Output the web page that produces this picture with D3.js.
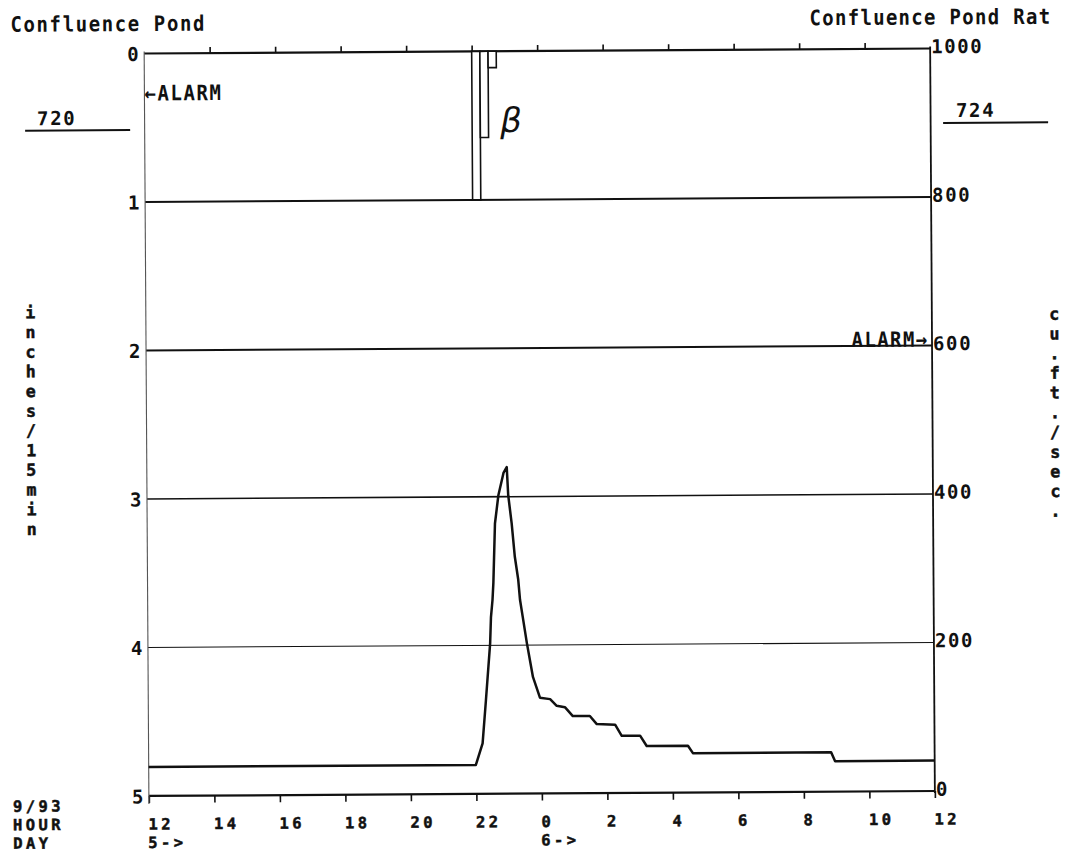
<!DOCTYPE html>
<html><head><meta charset="utf-8">
<script src="https://cdn.jsdelivr.net/npm/d3@7"></script>
<style>
html,body{margin:0;padding:0;background:#fff;}
svg{display:block;}
text{font-family:"DejaVu Sans Mono","Liberation Mono",monospace;font-weight:bold;font-size:19px;letter-spacing:1.6px;fill:#111;}
text.heavy{stroke:#111;stroke-width:0.5px;}
</style></head><body>
<svg id="chart" width="1066" height="855"></svg>
<script>
// ---- data ----
const titleLeft = "Confluence Pond";
const titleRight = "Confluence Pond Rat";
const leftAxisLabel = "inches/15min";
const rightAxisLabel = "cu.ft./sec.";
const dateLabel = ["9/93", "HOUR", "DAY"];
const rainTicks = [0, 1, 2, 3, 4, 5];
const flowTicks = [0, 200, 400, 600, 800, 1000];
// hours since 12:00 on day 5
const hourTicks = [0, 2, 4, 6, 8, 10, 12, 14, 16, 18, 20, 22, 24];
const hourLabels = ["12", "14", "16", "18", "20", "22", "0", "2", "4", "6", "8", "10", "12"];
const dayHours = [0, 12];
const dayLabels = ["5->", "6->"];
// rainfall (inches per 15 min), interval start in hours since 12:00
const rainStart = [10.0, 10.25, 10.5];
const rainValue = [1.00, 0.58, 0.11];
const rainInterval = 0.25;
// rating flow (cu.ft./sec.)
const flowHours = [0, 9.99, 10.20, 10.31, 10.45, 10.48, 10.53, 10.56, 10.62, 10.73, 10.89, 10.99,
  11.03, 11.13, 11.22, 11.32, 11.37, 11.45, 11.57, 11.75, 11.96, 12.27, 12.47, 12.72, 12.96,
  13.27, 13.48, 13.69, 14.25, 14.45, 15.01, 15.21, 16.47, 16.62, 20.84, 20.96, 24];
const flowCfs = [39, 39, 68, 126, 203, 238, 261, 284, 364, 402, 432, 440,
  402, 364, 319, 288, 261, 238, 203, 157, 129, 127, 118, 116, 104,
  104, 104, 93, 92, 77, 77, 63, 63, 53, 53, 41, 41];
const alarmLeft = "720";
const alarmRight = "724";

// ---- layout ----
const L = 146.5, R = 932.5, T = 51, B = 793.5;
const ROW = 18.5;                       // row pitch of the bottom text block
const BOT_FONT = "15.5px", BOT_LS = "3.4px";
const svg = d3.select("#chart");
const g = svg.append("g").attr("transform", "rotate(-0.364,537,420)");

const x = d3.scaleLinear().domain([0, 24]).range([L, R]);
const yRain = d3.scaleLinear().domain([0, 5]).range([T, B]);
const yFlow = d3.scaleLinear().domain([0, 1000]).range([B, T]);

// grid lines
const gridW = {1: 2, 2: 2, 3: 1.6, 4: 1.1};
g.selectAll("line.grid").data(rainTicks.filter(d => d > 0 && d < 5)).enter()
  .append("line").attr("class", "grid")
  .attr("x1", L).attr("x2", R)
  .attr("y1", d => yRain(d)).attr("y2", d => yRain(d))
  .attr("stroke", "#111").attr("stroke-width", d => gridW[d]);

// top axis ticks
const topAx = g.append("g").attr("transform", `translate(0,${T})`)
  .call(d3.axisTop(x).tickValues(hourTicks.slice(1, -1)).tickSize(6).tickFormat(""));
topAx.select(".domain").remove();
topAx.selectAll("line").attr("stroke", "#111").attr("stroke-width", 1.6);

// bottom axis
const botAx = g.append("g").attr("transform", `translate(0,${B})`)
  .call(d3.axisBottom(x).tickValues(hourTicks).tickSize(7).tickFormat((d, i) => hourLabels[i]));
botAx.select(".domain").remove();
botAx.selectAll("line").attr("stroke", "#111").attr("stroke-width", 1.6);
botAx.selectAll("text").attr("class", "heavy").attr("text-anchor", "start").attr("x", -1).attr("y", 33.5).attr("dy", null)
  .attr("fill", "#111").style("font-size", BOT_FONT).style("letter-spacing", BOT_LS);

// day labels
g.selectAll("text.day").data(dayHours).enter().append("text").attr("class", "day heavy")
  .attr("x", d => x(d) - 1).attr("y", B + 33.5 + ROW)
  .style("font-size", BOT_FONT).style("letter-spacing", BOT_LS)
  .text((d, i) => dayLabels[i]);

// date block
g.selectAll("text.date").data(dateLabel).enter().append("text").attr("class", "date heavy")
  .attr("x", 10.5).attr("y", (d, i) => B + 33.5 + (i - 1) * ROW)
  .style("font-size", BOT_FONT).style("letter-spacing", BOT_LS)
  .text(d => d);

// frame lines
g.append("line").attr("x1", L).attr("x2", R).attr("y1", T).attr("y2", T)
  .attr("stroke", "#111").attr("stroke-width", 2.2);
g.append("line").attr("x1", L).attr("x2", R).attr("y1", B).attr("y2", B)
  .attr("stroke", "#111").attr("stroke-width", 2.2);
g.append("line").attr("x1", L).attr("x2", L).attr("y1", T - 2).attr("y2", B + 8)
  .attr("stroke", "#555").attr("stroke-width", 1.1);
g.append("line").attr("x1", R).attr("x2", R).attr("y1", T - 2).attr("y2", B + 2)
  .attr("stroke", "#111").attr("stroke-width", 1.8);

// left axis labels
const leftAx = g.append("g").attr("transform", `translate(${L},0)`)
  .call(d3.axisLeft(yRain).tickValues(rainTicks).tickSize(0).tickPadding(4).tickFormat(d3.format("d")));
leftAx.select(".domain").remove();
leftAx.selectAll("text").attr("dy", "0.36em").attr("fill", "#111");

// right axis labels
const rightAx = g.append("g").attr("transform", `translate(${R},0)`)
  .call(d3.axisRight(yFlow).tickValues(flowTicks).tickSize(0).tickPadding(1).tickFormat(d3.format("d")));
rightAx.select(".domain").remove();
rightAx.selectAll("text").attr("dy", "0.22em").attr("fill", "#111");

// rainfall bars
g.selectAll("rect.rain").data(rainValue).enter().append("rect").attr("class", "rain")
  .attr("x", (d, i) => x(rainStart[i]))
  .attr("width", (d, i) => x(rainStart[i] + rainInterval) - x(rainStart[i]))
  .attr("y", yRain(0))
  .attr("height", d => yRain(d) - yRain(0))
  .attr("fill", "#fff").attr("stroke", "#111").attr("stroke-width", 1.6);

// flow line
const flow = flowHours.map((h, i) => [h, flowCfs[i]]);
g.append("path").datum(flow)
  .attr("d", d3.line().x(d => x(d[0])).y(d => yFlow(d[1])))
  .attr("fill", "none").attr("stroke", "#111").attr("stroke-width", 2.5)
  .attr("stroke-linejoin", "round");

// titles
g.append("text").attr("transform", "translate(13,28.5) scale(1,1.12)").text(titleLeft);
g.append("text").attr("transform", "translate(812,27) scale(1,1.12)").style("letter-spacing", "1.3px").text(titleRight);

// alarm annotations
g.append("text").attr("transform", `translate(${L},98) scale(1,1.12)`).text("\u2190ALARM");
g.append("text").attr("transform", "translate(852,349) scale(1,1.1)").style("letter-spacing", "1.4px").text("ALARM\u2192");
g.append("text").attr("x", 39).attr("y", 122).text(alarmLeft);
g.append("line").attr("x1", 27).attr("x2", 132).attr("y1", 127.5).attr("y2", 127.5)
  .attr("stroke", "#111").attr("stroke-width", 2);
g.append("text").attr("x", 958).attr("y", 119.7).text(alarmRight);
g.append("line").attr("x1", 945).attr("x2", 1050).attr("y1", 125.5).attr("y2", 125.5)
  .attr("stroke", "#111").attr("stroke-width", 2);

// beta symbol
g.append("text").attr("x", 513).attr("y", 132)
  .attr("text-anchor", "middle")
  .style("font-family", "'DejaVu Sans',sans-serif").style("font-style", "italic")
  .style("font-weight", "normal").style("font-size", "34px").style("letter-spacing", "0")
  .text("\u03B2");

// vertical axis titles, one character per line
g.selectAll("text.vl").data(leftAxisLabel.split("")).enter().append("text").attr("class", "vl heavy")
  .attr("x", 31).attr("y", (d, i) => 315 + i * 19.7).attr("text-anchor", "middle")
  .style("font-size", "16.6px").style("letter-spacing", "0").text(d => d);
g.selectAll("text.vr").data(rightAxisLabel.split("")).enter().append("text").attr("class", "vr heavy")
  .attr("x", 1055).attr("y", (d, i) => 323 + i * 19.7).attr("text-anchor", "middle")
  .style("font-size", "16.6px").style("letter-spacing", "0").text(d => d);
</script>
</body></html>
